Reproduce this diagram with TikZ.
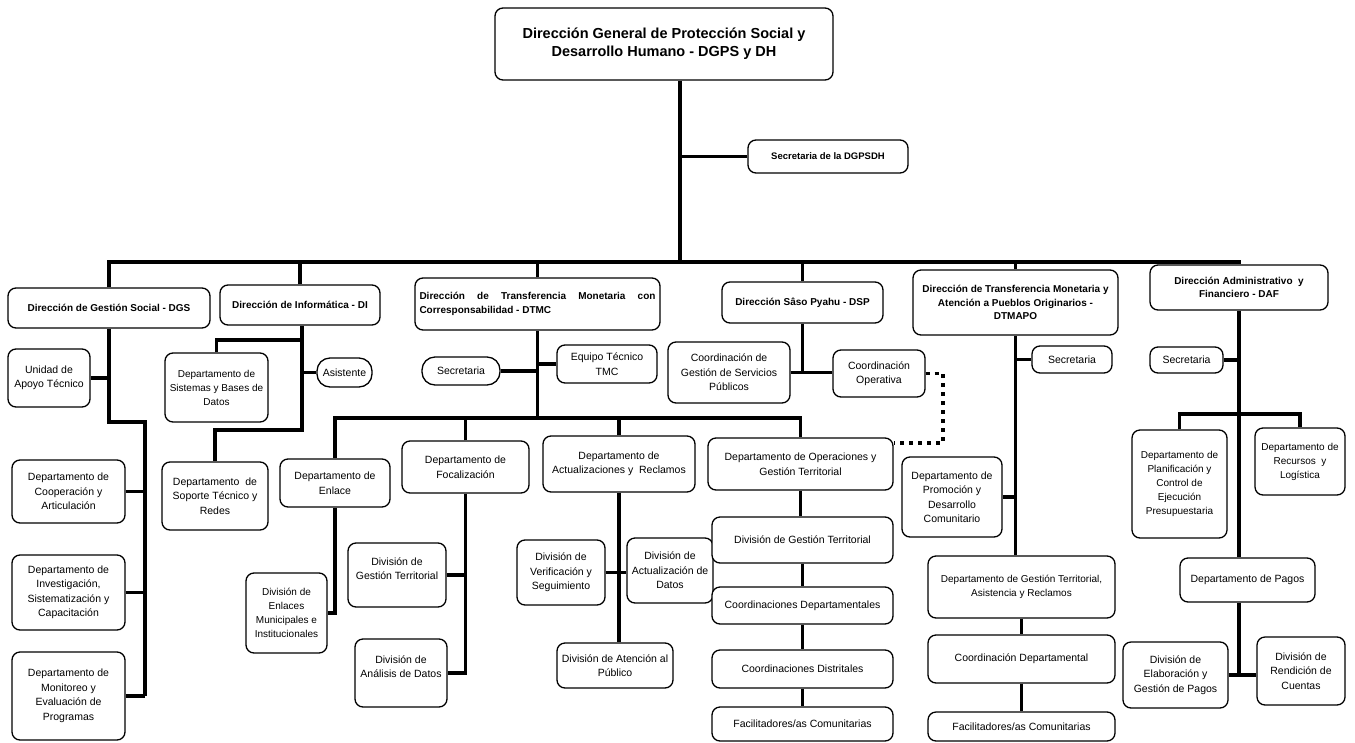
\documentclass[tikz,border=0pt]{standalone}
\usepackage{fontspec}
\setmainfont{Liberation Sans}
\usetikzlibrary{calc}
\begin{document}
\begin{tikzpicture}[x=1pt,y=-1pt,
  bx/.style={draw, line width=1.3pt, rounded corners=8pt, inner sep=1pt, align=center, fill=white, font=\fontsize{10.5}{14.5}\selectfont},
  sm/.style={font=\fontsize{10}{14}\selectfont},
  dirbx/.style={bx, font=\bfseries\fontsize{10}{13.5}\selectfont},
  pill/.style={bx, rounded corners=13pt},
  sz/.style 2 args={minimum width=#1pt, minimum height=#2pt},
  conn/.style={line width=3.5pt},
  dotconn/.style={line width=3.5pt, dash pattern=on 4pt off 5pt}]
\fill[white] (0,0) rectangle (1355,742);
\useasboundingbox (0,0) rectangle (1355,742);

% top
\node[bx, sz={338}{72}, font=\bfseries\fontsize{14.5}{18}\selectfont] (top) at (664,44) {Dirección General de Protección Social y\\Desarrollo Humano - DGPS y DH};
\node[dirbx, sz={160}{33}, font=\bfseries\fontsize{9.5}{12}\selectfont] (sec) at (828,156.5) {Secretaria de la DGPSDH};

% DGS
\node[dirbx, sz={202}{40}] (dgs) at (109,308) {Dirección de Gestión Social - DGS};
\node[bx, sz={82}{58}] (uat) at (49,378) {Unidad de\\Apoyo Técnico};
\node[bx, sz={113}{63}] (coop) at (68.5,491.5) {Departamento de\\Cooperación y\\Articulación};
\node[bx, sz={113}{75}] (inv) at (68.5,592.5) {Departamento de\\Investigación,\\Sistematización y\\Capacitación};
\node[bx, sz={113}{88}] (mon) at (68.5,696) {Departamento de\\Monitoreo y\\Evaluación de\\Programas};

% DI
\node[dirbx, sz={160}{40}] (di) at (300,305) {Dirección de Informática - DI};
\node[bx, sm, sz={103}{69}] (sis) at (216.5,387.5) {Departamento de\\Sistemas y Bases de\\Datos};
\node[pill, sz={55}{29}] (asis) at (344.5,372.5) {Asistente};
\node[bx, sz={106}{68}] (sop) at (215,496) {Departamento\ \ de\\Soporte Técnico y\\Redes};

% DTMC
\node[dirbx, sz={245}{52}, align=left] (dtmc) at (537.5,304) {\makebox[236pt][s]{Dirección de Transferencia Monetaria con}\\Corresponsabilidad - DTMC};
\node[pill, sz={78}{28}] (dtsec) at (461,371) {Secretaria};
\node[bx, sz={100}{38}] (eq) at (607,364) {Equipo Técnico\\TMC};
\node[bx, sz={110}{48}] (enl) at (335,483) {Departamento de\\Enlace};
\node[bx, sm, sz={81}{80}] (denl) at (286.5,613) {División de\\Enlaces\\Municipales e\\Institucionales};
\node[bx, sz={127}{52}] (foc) at (465.5,467) {Departamento de\\Focalización};
\node[bx, sz={98}{64}] (fgt) at (397,575) {División de\\Gestión Territorial\\[-2pt]\mbox{}};
\node[bx, sz={92}{68}] (fad) at (401,673) {División de\\Análisis de Datos\\[-2pt]\mbox{}};
\node[bx, sz={152}{56}] (act) at (619,464) {Departamento de\\Actualizaciones y\ \ Reclamos};
\node[bx, sz={88}{65}] (ver) at (561,572.5) {División de\\Verificación y\\Seguimiento};
\node[bx, sz={86}{65}] (acd) at (670,570.5) {División de\\Actualización de\\Datos};
\node[bx, sz={116}{45}] (ate) at (615,665.5) {División de Atención al\\Público};
\node[bx, sz={185}{52}] (ope) at (800.5,464) {Departamento de Operaciones y\\Gestión Territorial};
\node[bx, sz={181}{46}] (ogt) at (802.5,540) {División de Gestión Territorial};
\node[bx, sz={181}{37}] (ocd) at (802.5,605.5) {Coordinaciones Departamentales};
\node[bx, sz={181}{38}] (ocdi) at (802.5,669) {Coordinaciones Distritales};
\node[bx, sz={181}{34}] (ofa) at (802.5,724) {Facilitadores/as Comunitarias};

% DSP
\node[dirbx, sz={161}{41}] (dsp) at (802.5,302.5) {Dirección Sâso Pyahu - DSP};
\node[bx, sz={122}{61}] (cgs) at (729,372.5) {Coordinación de\\Gestión de Servicios\\Públicos};
\node[bx, sz={92}{47}] (cop) at (879,373.5) {Coordinación\\Operativa};

% DTMAPO
\node[dirbx, sz={205}{65}] (dtm) at (1015.5,302.5) {Dirección de Transferencia Monetaria y\\Atención a Pueblos Originarios -\\DTMAPO};
\node[bx, sz={80}{27}] (msec) at (1072,359.5) {Secretaria};
\node[bx, sz={100}{80}] (prom) at (952,497) {Departamento de\\Promoción y\\Desarrollo\\Comunitario};
\node[bx, sm, sz={187}{62}] (mgt) at (1021.5,587) {Departamento de Gestión Territorial,\\Asistencia y Reclamos};
\node[bx, sz={187}{48}] (mcd) at (1021.5,659) {Coordinación Departamental};
\node[bx, sz={187}{29}] (mfa) at (1021.5,726.5) {Facilitadores/as Comunitarias};

% DAF
\node[dirbx, sz={178}{45}] (daf) at (1239,287.5) {Dirección Administrativo\ \ y\\Financiero - DAF};
\node[bx, sz={73}{26}] (fsec) at (1186.5,360) {Secretaria};
\node[bx, sm, sz={95}{108}] (pla) at (1179.5,484) {Departamento de\\Planificación y\\Control de\\Ejecución\\Presupuestaria};
\node[bx, sm, sz={90}{67}] (rec) at (1300,461.5) {Departamento de\\Recursos\ \ y\\Logística};
\node[bx, sz={135}{44}] (pag) at (1247.5,580) {Departamento de Pagos};
\node[bx, sz={105}{66}] (ela) at (1175.5,675) {División de\\Elaboración y\\Gestión de Pagos};
\node[bx, sz={88}{68}] (ren) at (1301,671) {División de\\Rendición de\\Cuentas};

% coordinates
\coordinate (tk) at (680,262);
\coordinate (g2) at (145,422);
\coordinate (d1) at (302,430);
\coordinate (d2) at (302,340);
\coordinate (t1) at (537.5,418);
\coordinate (dt) at (943,443);
\coordinate (f1) at (1240,414);

% main structure
\draw[conn] ($(top.south)+(16,0)$) -- (tk);
\draw[conn] (sec.west) -- (sec.west -| tk);
\draw[conn] (dgs.north) |- (daf.north |- tk) -- (daf.north);
\draw[conn] (di.north) -- (di.north |- tk);
\draw[conn] (dtmc.north) -- (dtmc.north |- tk);
\draw[conn] (dsp.north) -- (dsp.north |- tk);
\draw[conn] (dtm.north) -- (dtm.north |- tk);

% DGS
\draw[conn] (dgs.south) |- (g2) -- (g2 |- mon.east);
\draw[conn] (uat.east) -- (uat.east -| dgs.south);
\draw[conn] (coop.east) -- (coop.east -| g2);
\draw[conn] (inv.east) -- (inv.east -| g2);
\draw[conn] (mon.east) -- (mon.east -| g2);

% DI
\draw[conn] (di.south -| d1) -- (d1) -| (sop.north);
\draw[conn] (sis.north) |- (d2);
\draw[conn] (asis.west) -- (asis.west -| d1);

% DTMC
\draw[conn] (dtmc.south) -- (t1);
\draw[conn] (enl.north) |- (ope.north |- t1) -- (ope.north);
\draw[conn] (foc.north) -- (foc.north |- t1);
\draw[conn] (act.north) -- (act.north |- t1);
\draw[conn] (dtsec.east) -- (dtsec.east -| t1);
\draw[conn] (eq.west) -- (eq.west -| t1);
\draw[conn] (enl.south) |- (denl.east);
\draw[conn] (foc.south) |- (fad.east);
\draw[conn] (fgt.east) -- (fgt.east -| foc.south);
\draw[conn] (act.south) -- (act.south |- ate.north);
\draw[conn] (ver.east) -- (ver.east -| acd.west);
\draw[conn] (ope.south) -- (ope.south |- ogt.north);
\draw[conn] (ogt.south) -- (ocd.north);
\draw[conn] (ocd.south) -- (ocdi.north);
\draw[conn] (ocdi.south) -- (ofa.north);

% DSP
\draw[conn] (dsp.south) -- (dsp.south |- cgs.east);
\draw[conn] (cgs.east) -- (cgs.east -| cop.west);
\draw[dotconn] (cop.east) -| (dt) -- (dt -| ope.east);

% DTMAPO
\draw[conn] (dtm.south) -- (dtm.south |- mgt.north);
\draw[conn] (msec.west) -- (msec.west -| dtm.south);
\draw[conn] (prom.east) -- (prom.east -| dtm.south);
\draw[conn] (mgt.south) -- (mcd.north);
\draw[conn] (mcd.south) -- (mfa.north);

% DAF
\draw[conn] (daf.south) -- (daf.south |- pag.north);
\draw[conn] (fsec.east) -- (fsec.east -| daf.south);
\draw[conn] (pla.north) |- (rec.north |- f1) -- (rec.north);
\draw[conn] (daf.south |- pag.south) -- (daf.south |- ela.east);
\draw[conn] (ela.east) -- (ela.east -| ren.west);
\end{tikzpicture}
\end{document}
